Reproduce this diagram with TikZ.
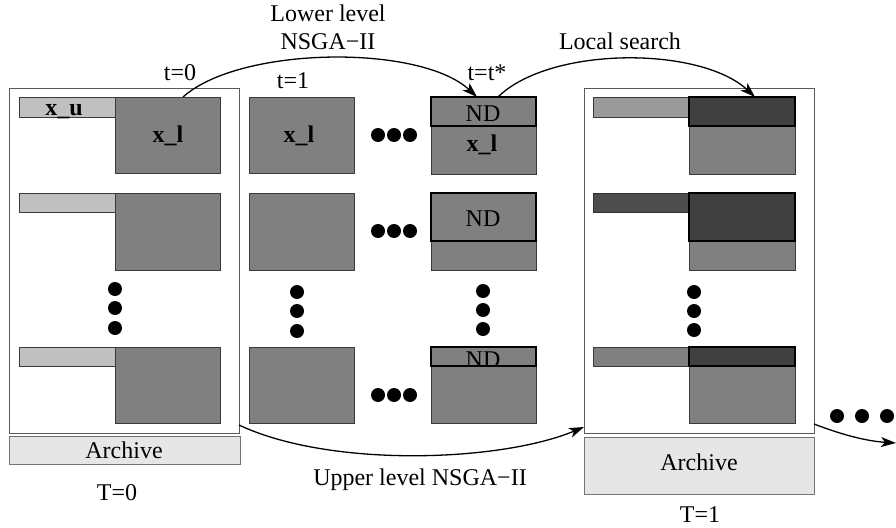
\documentclass[tikz,border=0pt]{standalone}
\usepackage{fontspec}
\setmainfont{Liberation Serif}
\usetikzlibrary{arrows.meta}
\definecolor{midgray}{HTML}{808080}
\definecolor{lightbar}{HTML}{C0C0C0}
\definecolor{darkhead}{HTML}{404040}
\definecolor{archfill}{HTML}{E6E6E6}
\definecolor{barA}{HTML}{9A9A9A}
\definecolor{barB}{HTML}{4D4D4D}
\definecolor{edgegray}{HTML}{3A3A3A}
\begin{document}
\begin{tikzpicture}[x=1pt,y=-1pt,
  font=\fontsize{24}{28}\selectfont,
  rect/.style={rectangle,anchor=north west,inner sep=0pt,outer sep=0pt},
  bigbox/.style={rect,draw=black!65,line width=0.9pt,fill=white},
  ubar/.style={rect,draw=edgegray,line width=0.9pt,fill=lightbar},
  lbox/.style={rect,draw=edgegray,line width=0.9pt,fill=midgray},
  ndbox/.style={rect,draw=black,line width=1.6pt,fill=midgray},
  dkbox/.style={rect,draw=black,line width=1.6pt,fill=darkhead},
  archbox/.style={rect,draw=black!55,line width=0.9pt,fill=archfill},
  blackdot/.style={circle,fill=black,minimum size=14pt,inner sep=0pt},
  lbl/.style={anchor=base,inner sep=0pt},
  arr/.style={-{Stealth[length=15pt,width=10pt,inset=4pt]},line width=1.3pt}
]
\useasboundingbox (0,0) rectangle (896,527);

% ---------- T=0 population ----------
\node[bigbox,minimum width=230pt,minimum height=345pt] (P0) at (9,88) {};
\node[archbox,minimum width=231pt,minimum height=28pt] (A0) at (9,436) {};
\node[lbl] (A0t) at (124,458) {Archive};
\node[lbl] (T0) at (117,500) {T=0};

\node[ubar,minimum width=96pt,minimum height=20pt] (u1) at (19,97) {};
\node[lbox,minimum width=105pt,minimum height=76pt] (l1) at (115,97) {};
\node[lbl,font=\fontsize{24}{28}\selectfont\bfseries] (u1t) at (64,115) {x\_u};
\node[lbl,font=\fontsize{24}{28}\selectfont\bfseries] (l1t) at (168,142) {x\_l};

\node[ubar,minimum width=96pt,minimum height=19pt] (u2) at (19,193) {};
\node[lbox,minimum width=105pt,minimum height=77pt] (l2) at (115,193) {};

\node[blackdot] (v0a) at (115,289) {};
\node[blackdot] (v0b) at (115,308) {};
\node[blackdot] (v0c) at (115,328) {};

\node[ubar,minimum width=96pt,minimum height=19pt] (u3) at (19,347) {};
\node[lbox,minimum width=105pt,minimum height=76pt] (l3) at (115,347) {};

\node[lbl] (t0) at (180,80) {t=0};

% ---------- t=1 column ----------
\node[lbox,minimum width=105pt,minimum height=76pt] (c1a) at (249,97) {};
\node[lbl,font=\fontsize{24}{28}\selectfont\bfseries] (c1at) at (299,142) {x\_l};
\node[lbox,minimum width=105pt,minimum height=77pt] (c1b) at (249,193) {};
\node[blackdot] (v1a) at (297,292) {};
\node[blackdot] (v1b) at (297,311) {};
\node[blackdot] (v1c) at (297,331) {};
\node[lbox,minimum width=105pt,minimum height=76pt] (c1c) at (249,347) {};
\node[lbl] (t1) at (293,88) {t=1};

% horizontal dots
\foreach \r/\yy in {a/135,b/231,c/395}{
  \node[blackdot] (h\r1) at (378,\yy) {};
  \node[blackdot] (h\r2) at (394,\yy) {};
  \node[blackdot] (h\r3) at (410,\yy) {};
}

% ---------- t=t* column ----------
\node[lbox,minimum width=105pt,minimum height=77pt] (c2a) at (431,97) {};
\node[ndbox,minimum width=105pt,minimum height=29pt] (nd1) at (431,97) {};
\node[lbl] (nd1t) at (483,121) {ND};
\node[lbl,font=\fontsize{24}{28}\selectfont\bfseries] (c2at) at (482,151) {x\_l};

\node[lbox,minimum width=105pt,minimum height=77pt] (c2b) at (431,193) {};
\node[ndbox,minimum width=105pt,minimum height=48pt] (nd2) at (431,193) {};
\node[lbl] (nd2t) at (483,226) {ND};

\node[blackdot] (v2a) at (483,291) {};
\node[blackdot] (v2b) at (483,310) {};
\node[blackdot] (v2c) at (483,329) {};

\node[lbox,minimum width=105pt,minimum height=76pt] (c2c) at (431,347) {};
\node[lbl] (nd3t) at (483,367) {ND};
\node[rect,draw=black,line width=1.6pt,minimum width=105pt,minimum height=19pt] (nd3) at (431,347) {};

\node[lbl] (tst) at (487,81) {t=t*};

% ---------- T=1 population ----------
\node[bigbox,minimum width=230pt,minimum height=345pt] (P1) at (584,88) {};
\node[archbox,minimum width=230pt,minimum height=57pt] (A1) at (584,437) {};
\node[lbl] (A1t) at (699,470) {Archive};
\node[lbl] (T1) at (700,522) {T=1};

\node[rect,draw=edgegray,line width=0.9pt,fill=barA,minimum width=96pt,minimum height=20pt] (r1u) at (593,97) {};
\node[lbox,minimum width=106pt,minimum height=77pt] (r1l) at (689,97) {};
\node[dkbox,minimum width=106pt,minimum height=29pt] (r1h) at (689,97) {};

\node[rect,draw=black!80,line width=0.9pt,fill=barB,minimum width=96pt,minimum height=19pt] (r2u) at (593,193) {};
\node[lbox,minimum width=106pt,minimum height=77pt] (r2l) at (689,193) {};
\node[dkbox,minimum width=106pt,minimum height=48pt] (r2h) at (689,193) {};

\node[blackdot] (v3a) at (694,292) {};
\node[blackdot] (v3b) at (694,311) {};
\node[blackdot] (v3c) at (694,330) {};

\node[rect,draw=edgegray,line width=0.9pt,fill=midgray,minimum width=96pt,minimum height=19pt] (r3u) at (593,347) {};
\node[lbox,minimum width=106pt,minimum height=76pt] (r3l) at (689,347) {};
\node[dkbox,minimum width=106pt,minimum height=19pt] (r3h) at (689,347) {};

% trailing dots
\node[blackdot] (ta) at (837,416) {};
\node[blackdot] (tb) at (862,416) {};
\node[blackdot] (tc) at (887,416) {};
\coordinate (tend) at (896,443);

% ---------- arrows and labels ----------
\draw[arr] ([xshift=15.5pt]l1.north) .. controls (240,46) and (420,44) .. ([xshift=-6.5pt]nd1.north);
\node[lbl] (LL1) at (328,22) {Lower level};
\node[lbl] (LL2) at (328,50) {NSGA−II};

\draw[arr] ([xshift=14.5pt]nd1.north) .. controls (550,46) and (700,46) .. ([xshift=13pt]r1h.north);
\node[lbl] (LS) at (620,50) {Local search};

\draw[arr] (P0.south east |- 0,425) .. controls (330,468) and (500,462) .. (P1.south west |- 0,427);
\node[lbl] (UL) at (420,485) {Upper level NSGA−II};

\draw[arr] (P1.south east |- 0,424) .. controls (840,434) and (865,441) .. (tend);
\end{tikzpicture}
\end{document}
